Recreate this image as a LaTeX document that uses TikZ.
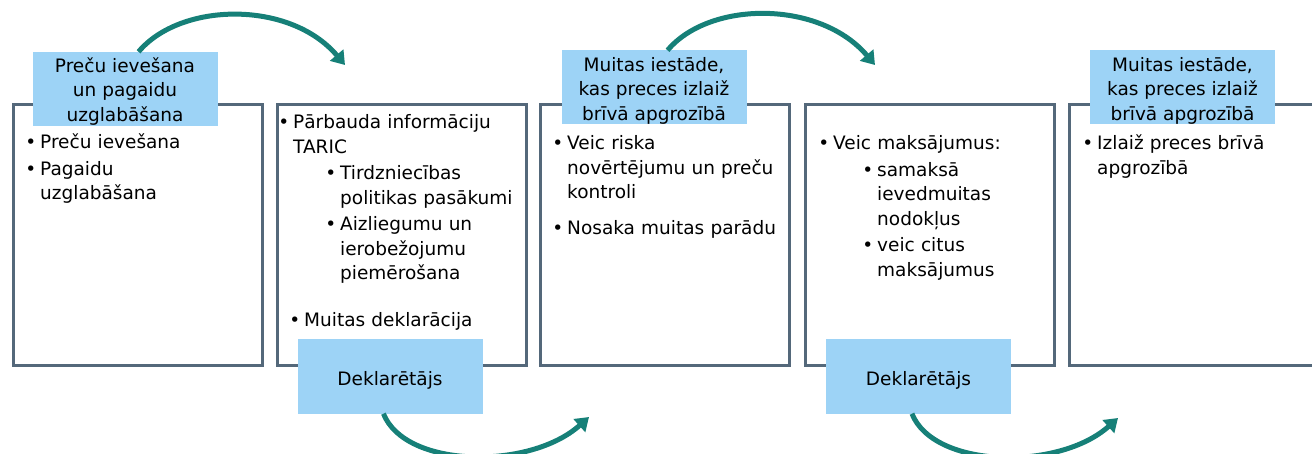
\documentclass[tikz,border=0pt]{standalone}
\usepackage{fontspec}
\setmainfont{DejaVu Sans}
\usepackage{tikz}
\usetikzlibrary{arrows.meta}
\definecolor{boxgray}{RGB}{84,104,122}
\definecolor{lblue}{RGB}{157,211,246}
\definecolor{arrteal}{RGB}{22,128,120}
\tikzstyle{box}=[draw=boxgray,line width=3pt,minimum width=249pt,minimum height=261pt,inner sep=0pt]
\tikzstyle{lab}=[fill=lblue,minimum width=185pt,minimum height=74pt,inner sep=0pt,align=center,font=\fontsize{18.5}{24.5}\selectfont]
\tikzstyle{txt}=[anchor=base west,inner sep=0pt,text width=300pt,align=left,font=\fontsize{18.5}{24.5}\selectfont]
\tikzstyle{arr}=[draw=arrteal,line width=5pt,-{Triangle[width=17pt,length=13pt]}]
\newcommand{\itm}[2]{\leftskip=#1\relax\parskip=2pt\leavevmode\llap{\textbullet\hspace{4pt}}#2\par}

\begin{document}
\begin{tikzpicture}[x=1pt,y=-1pt]
\clip (0,0) rectangle (1312,454);
\node[box] (b1) at (138,235){};
\node[box] (b2) at (402,235){};
\node[box] (b3) at (664.5,235){};
\node[box] (b4) at (930,235){};
\node[box] (b5) at (1194,235){};
\node[lab] (l1) at (125,89){\rule{0pt}{19.5pt}Preču ievešana\\un pagaidu\\uzglabāšana};
\node[lab] (l3) at (654,87.5){\rule{0pt}{20.5pt}Muitas iestāde,\\kas preces izlaiž\\brīvā apgrozībā};
\node[lab] (l5) at (1182.5,87.5){\rule{0pt}{20.5pt}Muitas iestāde,\\kas preces izlaiž\\brīvā apgrozībā};
\node[lab] (d2) at (390,376.5){\rule{0pt}{22pt}Deklarētājs};
\node[lab] (d4) at (918.5,376.5){\rule{0pt}{22pt}Deklarētājs};
\node[txt] (t1) at (40,149){\itm{0pt}{Preču ievešana}\itm{0pt}{Pagaidu\newline uzglabāšana}};
\node[txt] (t2) at (293,129){\itm{0pt}{Pārbauda informāciju\newline TARIC}\itm{47pt}{Tirdzniecības\newline politikas pasākumi}\itm{47pt}{Aizliegumu un\newline ierobežojumu\newline piemērošana}\vspace{20.5pt}\itm{11pt}{Muitas deklarācija}};
\node[txt] (t3) at (567,150){\itm{0pt}{Veic riska\newline novērtējumu un preču\newline kontroli}\vspace{9.5pt}\itm{0pt}{Nosaka muitas parādu}};
\node[txt] (t4) at (833,150){\itm{0pt}{Veic maksājumus:}\itm{44pt}{samaksā\newline ievedmuitas\newline nodokļus}\itm{44pt}{veic citus\newline maksājumus}};
\node[txt] (t5) at (1097,150){\itm{0pt}{Izlaiž preces brīvā\newline apgrozībā}};
\coordinate (e1) at (345,65);
\coordinate (e3) at (875,65);
\coordinate (e2) at (589,417);
\coordinate (e4) at (1118,418);
\draw[arr] (l1.70) .. controls +(42,-50) and +(-55,-65) .. (e1);
\draw[arr] (l3.70) .. controls +(42,-50) and +(-55,-65) .. (e3);
\draw[arr] (d2.260) .. controls +(22,55) and +(-59,53) .. (e2);
\draw[arr] (d4.260) .. controls +(22,55) and +(-59,53) .. (e4);
\end{tikzpicture}
\end{document}
